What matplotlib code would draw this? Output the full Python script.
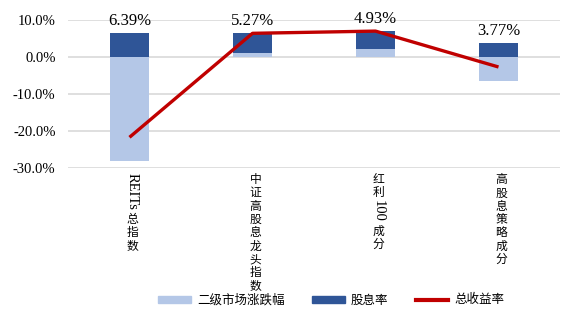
import matplotlib
matplotlib.use('Agg')
import numpy as np
from matplotlib import pyplot as plt
from matplotlib import font_manager
from matplotlib.transforms import IdentityTransform
from matplotlib.patches import Patch
from matplotlib.lines import Line2D

categories = ['REITs总指数', '中证高股息龙头指数', '红利100成分', '高股息策略成分']
market = [-28.1, 1.2, 2.1, -6.5]        # 二级市场涨跌幅 (%)
dividend = [6.39, 5.27, 4.93, 3.77]      # 股息率 (%)
total = [-21.7, 6.4, 7.0, -2.7]          # 总收益率 (%)
yticks = [10, 0, -10, -20, -30]

light = '#B4C7E7'
dark = '#2F5597'
red = '#C00000'
cjk = 'Noto Sans CJK SC'
serif_path = font_manager.findfont(font_manager.FontProperties(family='Liberation Serif'))
serif = font_manager.FontProperties(fname=serif_path)

W, H = 562, 313
fig = plt.figure(figsize=(W / 100, H / 100), dpi=100)
ax = fig.add_axes([68 / W, 1 - 168 / H, 492 / W, 148 / H])

x = np.arange(len(categories))
m = np.array(market)
d = np.array(dividend)
bw = 0.32
ax.bar(x, m, bw, color=light, zorder=2)
ax.bar(x, d, bw, bottom=np.maximum(m, 0), color=dark, zorder=2)
ax.plot(x, total, color=red, lw=2.4, zorder=3, solid_capstyle='butt')

for xi, mi, di in zip(x, m, d):
    top = max(mi, 0) + di
    ax.annotate(f'{di:.2f}%', (xi, top), xytext=(0, 3), textcoords='offset points',
                ha='center', va='bottom', fontproperties=serif, fontsize=12, clip_on=False)

ax.set_xlim(-0.5, len(categories) - 0.5)
ax.set_ylim(-30, 10)
ax.set_yticks(yticks)
ax.set_yticklabels([f'{t:.1f}%' for t in yticks])
for lb in ax.get_yticklabels():
    lb.set_fontproperties(serif)
    lb.set_fontsize(10.5)
ax.tick_params(axis='y', length=0, pad=9)
ax.set_xticks([])
ax.grid(axis='y', color='#D9D9D9', lw=1.2, zorder=0)
for s in ax.spines.values():
    s.set_visible(False)

# vertical category labels: CJK upright, latin runs rotated
renderer = fig.canvas.get_renderer()
step = 13.3
for xi, lab in zip(x, categories):
    xd = ax.transData.transform((xi, 0))[0] + 3
    ytop = H - 173  # display coords, top of first cell
    tokens = []
    buf = ''
    for ch in lab:
        if ord(ch) < 128:
            buf += ch
        else:
            if buf:
                tokens.append(buf)
                buf = ''
            tokens.append(ch)
    if buf:
        tokens.append(buf)
    for tk in tokens:
        if ord(tk[0]) < 128:
            t = fig.text(xd, ytop, tk, transform=IdentityTransform(), rotation=-90,
                         ha='center', va='top', fontproperties=serif, fontsize=10.5)
            bb = t.get_window_extent(renderer)
            ytop -= bb.height + 3
        else:
            fig.text(xd, ytop - step / 2, tk, transform=IdentityTransform(),
                     ha='center', va='center', fontsize=8.5, family=cjk)
            ytop -= step

handles = [Patch(color=light), Patch(color=dark), Line2D([], [], color=red, lw=3)]
labels = ['二级市场涨跌幅', '股息率', '总收益率']
fig.legend(handles, labels, loc='center', bbox_to_anchor=(0.59, 1 - 300 / H), ncol=3,
           frameon=False, prop={'family': cjk, 'size': 9}, handlelength=2.6,
           handleheight=0.5, columnspacing=2.2, handletextpad=0.5)

fig.savefig('out.png', dpi=100)
